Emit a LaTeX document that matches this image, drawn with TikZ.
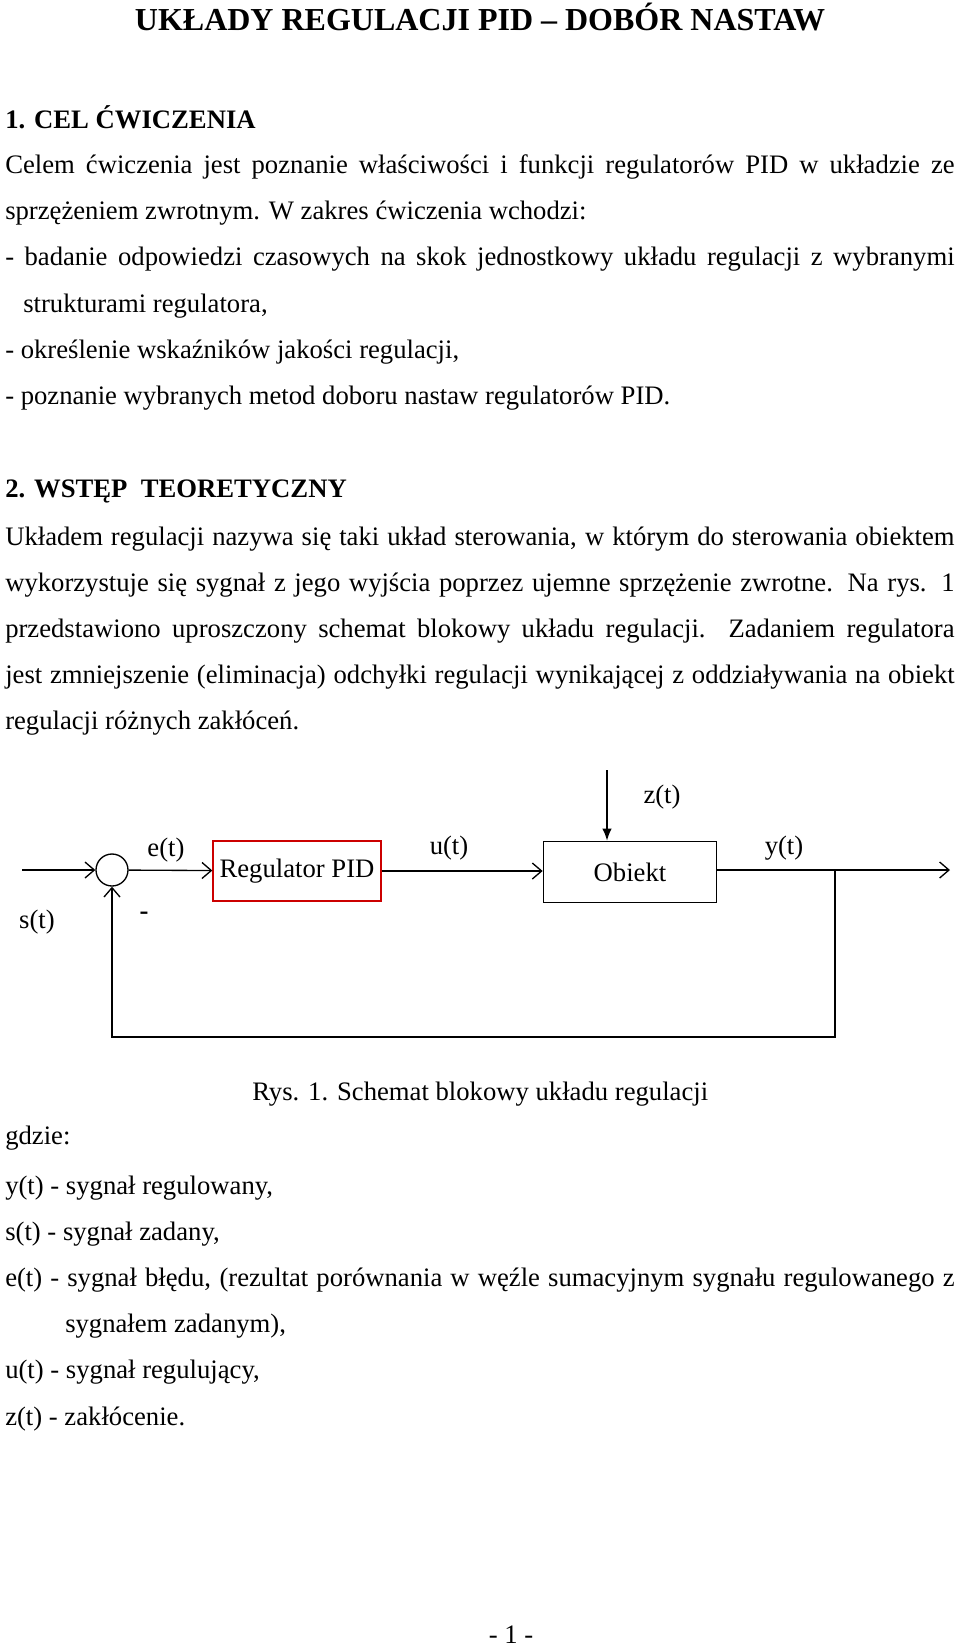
\documentclass[tikz,border=0pt]{standalone}
\usepackage{fontspec}
\setmainfont{Liberation Serif}
\usetikzlibrary{arrows.meta}
\begin{document}
\begin{tikzpicture}[x=0.75pt,y=-0.75pt,
  txt/.style={anchor=base west,inner sep=0pt,font=\fontsize{20}{22}\selectfont},
  hd/.style={txt,font=\fontsize{20}{22}\selectfont\bfseries},
  lbl/.style={inner sep=0pt,font=\fontsize{20}{22}\selectfont},
  sig/.style={line width=1pt},
  open/.style={-{Straight Barb[length=7pt,width=12pt,line width=1pt]}}]
\useasboundingbox (0,0) rectangle (960,1649);
\newcommand{\fl}[1]{\makebox[712pt][s]{#1}}
\node[anchor=base,inner sep=0pt,font=\fontsize{24}{26}\selectfont\bfseries] (title) at (480,30) {UKŁADY REGULACJI PID – DOBÓR NASTAW};
\node[hd] (h1) at (5,128) {1. CEL ĆWICZENIA};
\node[txt] (p1) at (5,173) {\fl{Celem ćwiczenia jest poznanie właściwości i funkcji regulatorów PID w układzie ze}};
\node[txt] (p2) at (5,219) {sprzężeniem zwrotnym. W zakres ćwiczenia wchodzi:};
\node[txt] (p3) at (5,265) {\fl{- badanie odpowiedzi czasowych na skok jednostkowy układu regulacji z wybranymi}};
\node[txt] (p4) at (23,312) {strukturami regulatora,};
\node[txt] (p5) at (5,358) {- określenie wskaźników jakości regulacji,};
\node[txt] (p6) at (5,404) {- poznanie wybranych metod doboru nastaw regulatorów PID.};
\node[hd] (h2) at (5,497) {2. WSTĘP\ \ TEORETYCZNY};
\node[txt] (q1) at (5,545) {\fl{Układem regulacji nazywa się taki układ sterowania, w którym do sterowania obiektem}};
\node[txt] (q2) at (5,591) {\fl{wykorzystuje się sygnał z jego wyjścia poprzez ujemne sprzężenie zwrotne. Na rys. 1}};
\node[txt] (q3) at (5,637) {\fl{przedstawiono uproszczony schemat blokowy układu regulacji. Zadaniem regulatora}};
\node[txt] (q4) at (5,683) {\fl{jest zmniejszenie (eliminacja) odchyłki regulacji wynikającej z oddziaływania na obiekt}};
\node[txt] (q5) at (5,729) {regulacji różnych zakłóceń.};
% diagram
\node[draw=red!80!black,line width=1pt,minimum width=126pt,minimum height=45pt,inner sep=0pt,font=\fontsize{20}{22}\selectfont] (reg) at (297,871) {Regulator PID};
\node[draw,line width=1pt,minimum width=130pt,minimum height=46pt,inner sep=0pt,font=\fontsize{20}{22}\selectfont] (obj) at (630,872) {Obiekt};
\node[draw,circle,line width=1pt,minimum size=24pt,inner sep=0pt] (sum) at (112,870) {};
\coordinate (in) at (22,870);
\coordinate (out) at (950,870);
\coordinate (br) at (835,870);
\coordinate (bot) at (835,1037);
\coordinate (botl) at (112,1037);
\coordinate (ztop) at (607,770);
\draw[sig,open] (in) -- (sum);
\draw[sig,open] (sum) -- (reg);
\draw[sig,open] (reg.east) -- (reg.east -| obj.west);
\draw[sig,open] (obj.east |- out) -- (out);
\draw[sig,-{Latex[length=9pt,width=7pt]}] (ztop) -- (ztop |- obj.north);
\draw[sig,open] (br) -- (bot) -- (botl) -- (sum.south);
\node[lbl] (zl) at (662,797) {z(t)};
\node[lbl] (el) at (166,850) {e(t)};
\node[lbl] (ul) at (449,848) {u(t)};
\node[lbl] (yl) at (784,848) {y(t)};
\node[lbl] (sl) at (37,922) {s(t)};
\node[lbl,font=\fontsize{20}{22}\selectfont\bfseries] (ml) at (144,916) {-};
\node[txt] (cap) at (252,1100) {Rys. 1. Schemat blokowy układu regulacji};
\node[txt] (g0) at (5,1144) {gdzie:};
\node[txt] (g1) at (5,1194) {y(t) - sygnał regulowany,};
\node[txt] (g2) at (5,1240) {s(t) - sygnał zadany,};
\node[txt] (g3) at (5,1286) {\fl{e(t) - sygnał błędu, (rezultat porównania w węźle sumacyjnym sygnału regulowanego z}};
\node[txt] (g4) at (65,1332) {sygnałem zadanym),};
\node[txt] (g5) at (5,1378) {u(t) - sygnał regulujący,};
\node[txt] (g6) at (5,1425) {z(t) - zakłócenie.};
\node[txt,anchor=base] (pg) at (511,1643) {- 1 -};
\end{tikzpicture}
\end{document}
